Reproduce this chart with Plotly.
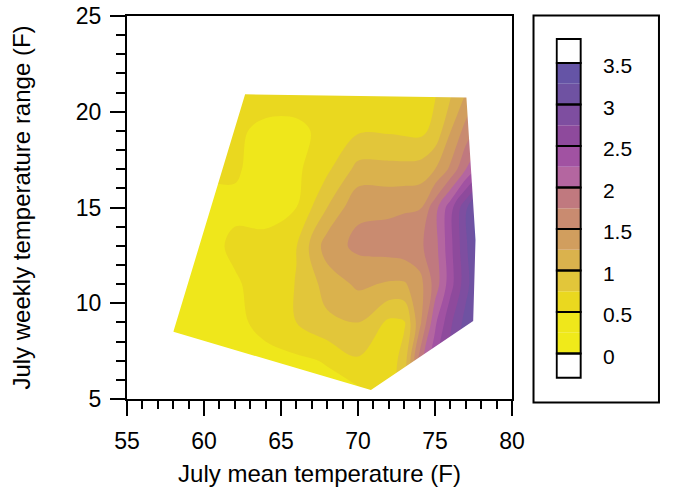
import plotly.graph_objects as go

# ---- data ----
x_vals = [58, 60, 62, 64, 66, 68, 70, 72, 73, 74, 75, 76, 77, 78]
y_vals = [5.2, 7, 9, 11, 13, 15, 17, 19, 21]
z_rows = [
    [0.30, 0.30, 0.30, 0.35, 0.38, 0.40, 0.42, 0.60, 0.95, 1.60, 2.10, 2.60, 2.95, 3.20],
    [0.30, 0.30, 0.35, 0.40, 0.45, 0.52, 0.72, 0.62, 0.85, 1.85, 2.40, 2.85, 3.20, 3.45],
    [0.30, 0.35, 0.42, 0.60, 0.75, 0.95, 1.00, 0.70, 0.72, 1.42, 2.20, 2.70, 3.10, 3.40],
    [0.35, 0.40, 0.47, 0.60, 0.76, 1.10, 1.30, 1.22, 1.22, 1.40, 1.85, 2.40, 2.90, 3.35],
    [0.35, 0.40, 0.55, 0.62, 0.74, 1.38, 1.56, 1.62, 1.66, 1.70, 1.90, 2.43, 2.95, 3.47],
    [0.40, 0.40, 0.45, 0.35, 0.50, 1.00, 1.45, 1.45, 1.47, 1.48, 1.90, 2.40, 2.95, 3.45],
    [0.55, 0.55, 0.53, 0.40, 0.45, 0.70, 1.08, 1.08, 1.08, 1.10, 1.25, 1.55, 2.00, 2.40],
    [0.57, 0.57, 0.56, 0.42, 0.40, 0.62, 0.72, 0.72, 0.70, 0.68, 0.82, 1.24, 1.60, 1.90],
    [0.60, 0.60, 0.62, 0.66, 0.70, 0.72, 0.73, 0.74, 0.73, 0.72, 0.73, 0.97, 1.25, 1.50],
]
# convex hull of the measured stations (x, y)
hull_x = [58.01, 62.67, 77.04, 77.63, 77.48, 70.84]
hull_y = [8.51, 20.91, 20.74, 13.3, 9.07, 5.47]

level_start, level_end, level_step = 0.0, 3.5, 0.25
band_colors = ['#F0EA1A', '#EFE71B', '#EAD81F', '#E2C63A', '#DAB24D', '#D19E5E',
               '#C98B70', '#C0797F', '#B466A0', '#A152A2', '#8E4A9C', '#7E4EA0',
               '#6F52A2', '#6554A6']
cb_ticks = [0, 0.5, 1, 1.5, 2, 2.5, 3, 3.5]
cb_ticktext = ['0', '0.5', '1', '1.5', '2', '2.5', '3', '3.5']
end_box = 0.29

FONT = 'Liberation Sans, Arial, sans-serif'

# ---- contour ----
all_colors = ['#ffffff'] + band_colors + ['#ffffff']
n = len(all_colors) - 1
colorscale = [[k / n, c] for k, c in enumerate(all_colors)]

fig = go.Figure()
fig.add_trace(go.Contour(
    x=x_vals, y=y_vals, z=z_rows,
    autocontour=False,
    contours=dict(start=level_start, end=level_end, size=level_step,
                  coloring='fill', showlines=False),
    line=dict(width=0),
    colorscale=colorscale, showscale=False, hoverinfo='skip',
    xaxis='x', yaxis='y'))

# mask outside the hull
outer = 'M57.5,5.04 L78.6,5.04 L78.6,21.6 L57.5,21.6 Z '
inner = 'M' + ' L'.join(f'{a},{b}' for a, b in zip(hull_x, hull_y)) + ' Z'
fig.add_shape(type='path', path=outer + inner, xref='x', yref='y',
              fillcolor='white', line=dict(width=0), layer='above',
              fillrule='evenodd')

# ---- custom colour bar (stacked bars) ----
bases = [level_start - end_box] + [level_start + i * level_step for i in range(len(band_colors) + 1)]
heights = [end_box] + [level_step] * len(band_colors) + [end_box]
fig.add_trace(go.Bar(x=[0] * len(bases), y=heights, base=bases,
                     marker=dict(color=all_colors, line=dict(width=0)),
                     width=1, xaxis='x2', yaxis='y2', hoverinfo='skip',
                     showlegend=False))
ob = [level_start - end_box] + cb_ticks
oh = [end_box] + [0.5] * (len(cb_ticks) - 1) + [end_box]
fig.add_trace(go.Bar(x=[0] * len(ob), y=oh, base=ob,
                     marker=dict(color='rgba(0,0,0,0)', line=dict(color='black', width=2)),
                     width=1, xaxis='x2', yaxis='y2', hoverinfo='skip',
                     showlegend=False))

# frame around colour bar
fig.add_shape(type='rect', xref='paper', yref='paper',
              x0=0.7459, x1=0.9761, y0=-0.0091, y1=1.0013,
              line=dict(color='black', width=2), fillcolor='rgba(0,0,0,0)')

axis_common = dict(showline=True, linecolor='black', linewidth=2, mirror=True,
                   ticks='outside', ticklen=15, tickwidth=1.5, tickcolor='black',
                   showgrid=False, zeroline=False, automargin=False,
                   tickfont=dict(family=FONT, size=23, color='black'))

fig.update_layout(
    template='none',
    width=682, height=491, autosize=False,
    margin=dict(l=127, r=10, t=16, b=92, pad=0),
    paper_bgcolor='white', plot_bgcolor='white',
    font=dict(family=FONT, color='black'),
    showlegend=False, barmode='overlay',
    xaxis=dict(domain=[0, 0.70642], range=[55, 80], dtick=5, tick0=55,
               minor=dict(dtick=1, ticklen=8, tickwidth=1.5, tickcolor='black', ticks='outside'),
               title=dict(text='July mean temperature (F)', font=dict(family=FONT, size=24), standoff=13),
               ticklabelstandoff=5,
               anchor='y', **axis_common),
    yaxis=dict(domain=[0, 1], range=[5, 25], dtick=5, tick0=5,
               minor=dict(dtick=1, ticklen=9, tickwidth=1.5, tickcolor='black', ticks='outside'),
               title=dict(text='July weekly temperature range (F)', font=dict(family=FONT, size=24), standoff=38),
               ticklabelstandoff=4,
               anchor='x', **axis_common),
    xaxis2=dict(domain=[0.7862, 0.8347], range=[-0.55, 0.55], visible=False, anchor='y2',
                automargin=False),
    yaxis2=dict(domain=[0.0513, 0.9443], range=[-0.31, 3.81], anchor='x2', side='right',
                tickvals=cb_ticks, ticktext=cb_ticktext, ticks='', showline=False,
                showgrid=False, zeroline=False, ticklabelstandoff=20, ticklabelshift=3,
                automargin=False,
                tickfont=dict(family=FONT, size=21, color='black')),
)

fig.write_html('out.html', config={'displayModeBar': False},
               post_script="document.body.style.margin='0';")
